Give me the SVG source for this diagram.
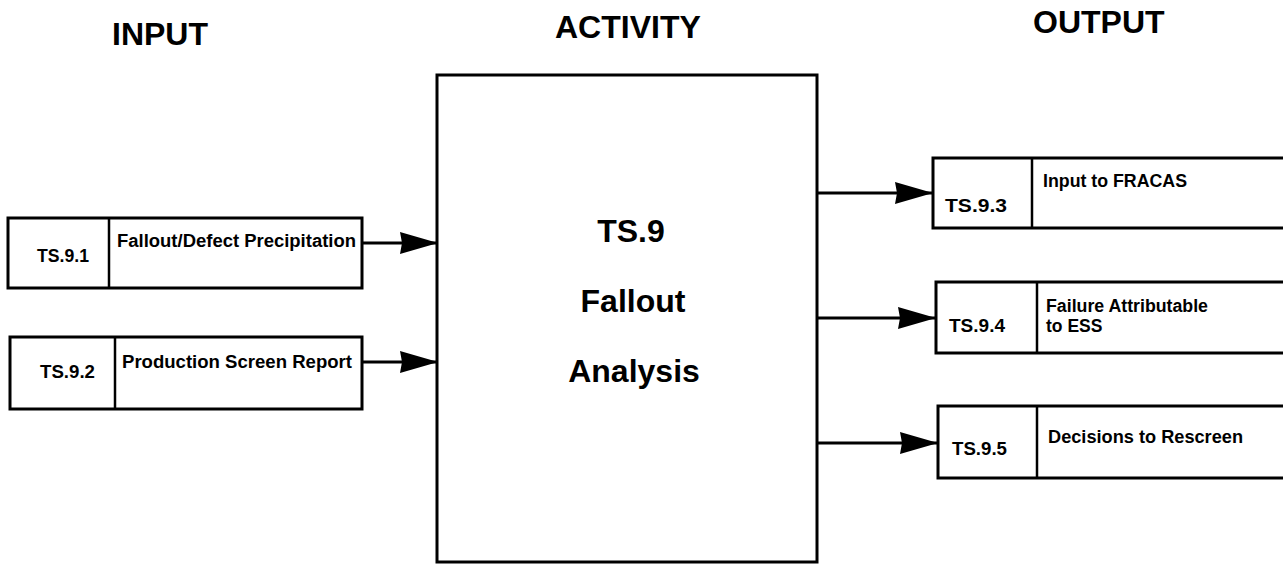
<svg xmlns="http://www.w3.org/2000/svg" width="1283" height="565" viewBox="0 0 1283 565">
<defs>
<style>
.box{fill:#fff;stroke:#000;stroke-width:3}
.div{stroke:#000;stroke-width:2.5}
.con{stroke:#000;stroke-width:3;fill:none}
text{font-family:"Liberation Sans",Arial,Helvetica,sans-serif;font-weight:bold;fill:#000}
.hd{font-size:32px}
.big{font-size:32px;text-anchor:middle}
.sm{font-size:17.5px}
</style>
<marker id="ah" markerUnits="userSpaceOnUse" markerWidth="40" markerHeight="24" refX="38" refY="11" orient="auto">
<path d="M0,0 L38,11 L0,22 L2,11 Z" fill="#000"/>
</marker>
</defs>
<rect width="1283" height="565" fill="#fff"/>
<g id="headers">
<text class="hd" x="112" y="45">INPUT</text>
<text class="hd" x="555" y="38">ACTIVITY</text>
<text class="hd" x="1033" y="33">OUTPUT</text>
</g>
<g id="ts9">
<rect class="box" x="437" y="75" width="380" height="487"/>
<text class="big" x="631" y="242">TS.9</text>
<text class="big" x="633" y="312">Fallout</text>
<text class="big" x="634" y="382">Analysis</text>
</g>
<g id="ts9-1">
<rect class="box" x="8" y="218" width="354" height="70"/>
<line class="div" x1="109" y1="218" x2="109" y2="288"/>
<text class="sm" x="37" y="262" textLength="52" lengthAdjust="spacingAndGlyphs">TS.9.1</text>
<text class="sm" x="117" y="247" textLength="239" lengthAdjust="spacingAndGlyphs">Fallout/Defect Precipitation</text>
</g>
<g id="ts9-2">
<rect class="box" x="10" y="337" width="352" height="72"/>
<line class="div" x1="115" y1="337" x2="115" y2="409"/>
<text class="sm" x="40" y="378" textLength="55" lengthAdjust="spacingAndGlyphs">TS.9.2</text>
<text class="sm" x="122" y="368" textLength="230" lengthAdjust="spacingAndGlyphs">Production Screen Report</text>
</g>
<g id="ts9-3">
<rect class="box" x="933" y="158" width="360" height="70"/>
<line class="div" x1="1032" y1="158" x2="1032" y2="228"/>
<text class="sm" x="945" y="212" textLength="62" lengthAdjust="spacingAndGlyphs">TS.9.3</text>
<text class="sm" x="1043" y="187" textLength="144" lengthAdjust="spacingAndGlyphs">Input to FRACAS</text>
</g>
<g id="ts9-4">
<rect class="box" x="936" y="282" width="360" height="71"/>
<line class="div" x1="1037" y1="282" x2="1037" y2="353"/>
<text class="sm" x="949" y="332" textLength="56" lengthAdjust="spacingAndGlyphs">TS.9.4</text>
<text class="sm" x="1046" y="312" textLength="162" lengthAdjust="spacingAndGlyphs">Failure Attributable</text>
<text class="sm" x="1046" y="332">to ESS</text>
</g>
<g id="ts9-5">
<rect class="box" x="938" y="406" width="360" height="72"/>
<line class="div" x1="1037" y1="406" x2="1037" y2="478"/>
<text class="sm" x="952" y="455" textLength="55" lengthAdjust="spacingAndGlyphs">TS.9.5</text>
<text class="sm" x="1048" y="443" textLength="195" lengthAdjust="spacingAndGlyphs">Decisions to Rescreen</text>
</g>
<g id="connectors">
<line class="con" x1="362" y1="243" x2="438" y2="243" marker-end="url(#ah)"/>
<line class="con" x1="362" y1="362" x2="438" y2="362" marker-end="url(#ah)"/>
<line class="con" x1="817" y1="193" x2="933" y2="193" marker-end="url(#ah)"/>
<line class="con" x1="817" y1="318" x2="936" y2="318" marker-end="url(#ah)"/>
<line class="con" x1="817" y1="443" x2="938" y2="443" marker-end="url(#ah)"/>
</g>
</svg>
